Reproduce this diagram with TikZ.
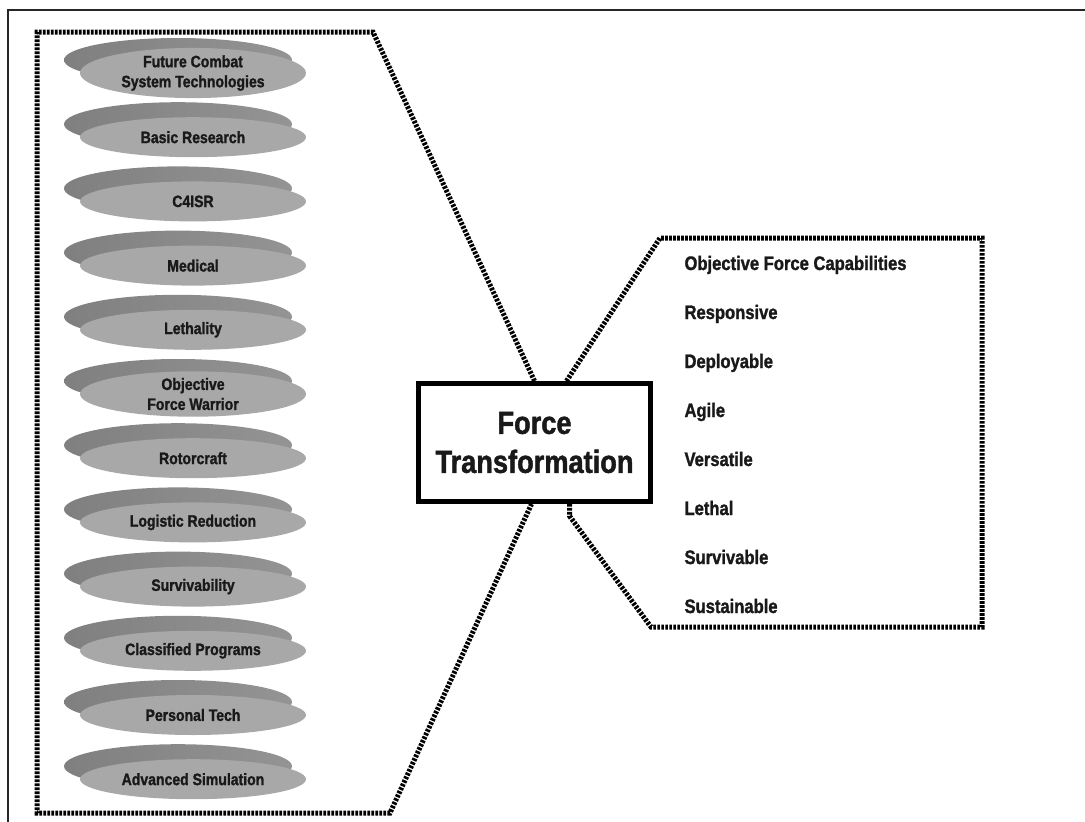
\documentclass[tikz,border=0pt]{standalone}
\usepackage{fontspec}
\setmainfont{Liberation Sans}[FakeStretch=0.85, BoldFeatures={FakeBold=1.4}]
\usetikzlibrary{shapes.geometric}

\tikzset{
  disc/.style={ellipse, fill=black!34, minimum width=226pt, minimum height=40pt,
    inner sep=0pt, align=center, text=black!90,
    font=\fontsize{16.5}{20}\selectfont\bfseries},
  discback/.style={left color=black!50, middle color=black!70, right color=black!42},
  dotline/.style={line width=5pt, dash pattern=on 2.6pt off 1.4pt, black},
  capitem/.style={anchor=base west, text=black!90,
    font=\fontsize{19.5}{22}\selectfont\bfseries},
}

\begin{document}
\begin{tikzpicture}[x=1pt,y=-1pt]
\useasboundingbox (0,0) rectangle (1085,822);
\draw[line width=1.5pt, black!85] (8,822) -- (8,10) -- (1085,10);

% programme discs, back face first
\foreach \n/\txt [count=\i from 0] in {fcs/{Future Combat\\System Technologies},
    basic/Basic Research, cisr/C4ISR, med/Medical, leth/Lethality,
    ofw/{Objective\\Force Warrior}, rotor/Rotorcraft, logi/Logistic Reduction,
    surv/Survivability, classif/Classified Programs, ptech/Personal Tech,
    advsim/Advanced Simulation}
{
  \shade[discback] (178,{73+64.2*\i-13}) ellipse [x radius=114pt, y radius=22pt];
  \node[disc] (\n) at (193,{73+64.2*\i}) {\txt};
}

\node[draw, line width=5pt, minimum width=232pt, minimum height=118pt, align=center,
  text=black!90, font=\fontsize{32}{39}\selectfont\bfseries]
  (ft) at (534.5,442.5) {Force\\Transformation};

% left frame
\coordinate (lne) at (373,32);
\coordinate (lnw) at (37,32);
\coordinate (lsw) at (37,813);
\coordinate (lse) at (390,813);
\draw[dotline] (ft.north) -- (lne) -- (lnw) -- (lsw) -- (lse) -- ([xshift=-3pt]ft.south);

% right frame
\coordinate (rnw) at (660,238);
\coordinate (rne) at (982,238);
\coordinate (rse) at (982,627);
\coordinate (rsw) at (651,627);
\coordinate (rknee) at ([xshift=35pt,yshift=-12pt]ft.south);
\draw[dotline] ([xshift=32pt]ft.north) -- (rnw) -- (rne) -- (rse) -- (rsw)
  -- (rknee) -- ([xshift=35pt]ft.south);

\foreach \n/\txt [count=\i from 0] in {caps/Objective Force Capabilities,
    resp/Responsive, depl/Deployable, agil/Agile, vers/Versatile,
    leth2/Lethal, surv2/Survivable, sust/Sustainable}
  \node[capitem] (\n) at (681,{270+49*\i}) {\txt};

\end{tikzpicture}
\end{document}
